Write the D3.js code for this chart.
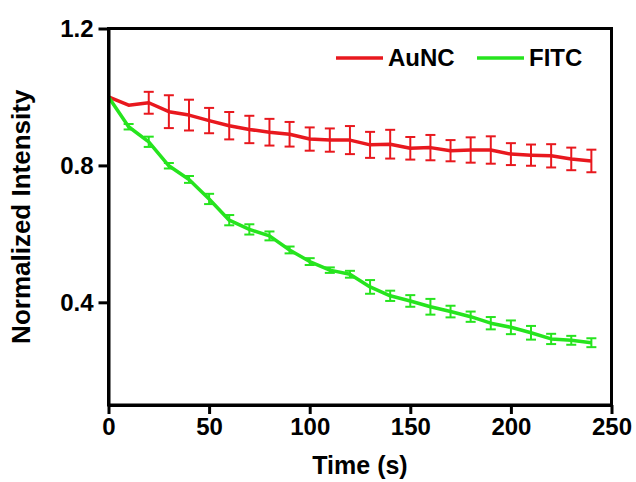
<!doctype html>
<html>
<head>
  <script src="https://cdnjs.cloudflare.com/ajax/libs/d3/7.8.5/d3.min.js"></script>
  <style>
    body { margin: 0; background: #fff; }
    svg text { font-family: "Liberation Sans", Arial, sans-serif; font-weight: bold; fill: #000; }
  </style>
</head>
<body>
  <svg id="chart" width="636" height="482"></svg>
  <script>
    // time points (s)
    var times = [0, 10, 20, 30, 40, 50, 60, 70, 80, 90, 100, 110, 120, 130, 140, 150, 160, 170, 180, 190, 200, 210, 220, 230, 240];
    var aunc = [1.0, 0.976, 0.983, 0.957, 0.947, 0.931, 0.916, 0.905, 0.897, 0.891, 0.877, 0.874, 0.874, 0.86, 0.862, 0.85, 0.852, 0.843, 0.845, 0.845, 0.833, 0.83, 0.828, 0.819, 0.813];
    var auncErr = [0, 0, 0.032, 0.048, 0.045, 0.037, 0.04, 0.04, 0.039, 0.036, 0.034, 0.034, 0.041, 0.038, 0.042, 0.033, 0.037, 0.031, 0.037, 0.04, 0.032, 0.031, 0.034, 0.033, 0.033];
    var fitc = [1.0, 0.913, 0.869, 0.799, 0.759, 0.702, 0.64, 0.613, 0.594, 0.553, 0.519, 0.494, 0.482, 0.445, 0.419, 0.404, 0.387, 0.373, 0.358, 0.339, 0.327, 0.311, 0.293, 0.289, 0.282];
    var fitcErr = [0, 0.008, 0.015, 0.008, 0.01, 0.015, 0.015, 0.015, 0.013, 0.01, 0.01, 0.008, 0.01, 0.02, 0.015, 0.017, 0.023, 0.017, 0.015, 0.018, 0.02, 0.02, 0.015, 0.013, 0.013];
    var xTicks = [0, 50, 100, 150, 200, 250];
    var yTicks = [0.4, 0.8, 1.2];

    var series = [
      { name: "AuNC", y: aunc, err: auncErr, color: "#e8181e" },
      { name: "FITC", y: fitc, err: fitcErr, color: "#26e41e" }
    ];

    var svg = d3.select("#chart");
    var pLeft = 108.5, pRight = 611.5, pTop = 28.5, pBottom = 405;

    var x = d3.scaleLinear().domain([0, 250]).range([pLeft, pRight]);
    var y = d3.scaleLinear().domain([0.1, 1.2]).range([pBottom, pTop]);

    // series (drawn first, axes on top)
    var line = d3.line().x(function (d) { return x(d[0]); }).y(function (d) { return y(d[1]); });
    series.forEach(function (s) {
      var pts = times.map(function (t, i) { return [t, s.y[i], s.err[i]]; });
      var g = svg.append("g");
      var bars = g.selectAll("g.err").data(pts.filter(function (d) { return d[2] > 0; }))
        .enter().append("g").attr("class", "err")
        .attr("stroke", s.color).attr("stroke-width", 2);
      bars.append("line")
        .attr("x1", function (d) { return x(d[0]); }).attr("x2", function (d) { return x(d[0]); })
        .attr("y1", function (d) { return y(d[1] - d[2]); }).attr("y2", function (d) { return y(d[1] + d[2]); });
      [-1, 1].forEach(function (k) {
        bars.append("line")
          .attr("x1", function (d) { return x(d[0]) - 5; }).attr("x2", function (d) { return x(d[0]) + 5; })
          .attr("y1", function (d) { return y(d[1] + k * d[2]); }).attr("y2", function (d) { return y(d[1] + k * d[2]); });
      });
      g.append("path").datum(pts)
        .attr("d", line)
        .attr("fill", "none")
        .attr("stroke", s.color)
        .attr("stroke-width", 3.5)
        .attr("stroke-linejoin", "round");
    });

    // frame
    svg.append("path")
      .attr("d", "M" + pLeft + "," + pBottom + "V" + pTop + "H" + pRight + "V" + pBottom + "Z")
      .attr("fill", "none").attr("stroke", "#000").attr("stroke-width", 3);

    var xAxis = svg.append("g")
      .attr("transform", "translate(0," + pBottom + ")")
      .call(d3.axisBottom(x).tickValues(xTicks).tickSize(9).tickPadding(4).tickSizeOuter(0));
    var yAxis = svg.append("g")
      .attr("transform", "translate(" + pLeft + ",0)")
      .call(d3.axisLeft(y).tickValues(yTicks).tickSize(10).tickPadding(5).tickFormat(d3.format(".1f")).tickSizeOuter(0));
    [xAxis, yAxis].forEach(function (a) {
      a.select(".domain").attr("stroke-width", 3);
      a.selectAll(".tick line").attr("stroke-width", 3);
      a.selectAll(".tick text").style("font-size", "24px").style("font-family", "'Liberation Sans', Arial, sans-serif").style("font-weight", "bold");
    });

    svg.append("text")
      .attr("x", (pLeft + pRight) / 2).attr("y", 474)
      .attr("text-anchor", "middle")
      .style("font-size", "25px")
      .text("Time (s)");
    svg.append("text")
      .attr("transform", "translate(30," + ((pTop + pBottom) / 2) + ") rotate(-90)")
      .attr("text-anchor", "middle")
      .style("font-size", "26px")
      .text("Normalized Intensity");

    // legend
    var legX = [336, 477];
    series.forEach(function (s, i) {
      svg.append("line")
        .attr("x1", legX[i]).attr("x2", legX[i] + 47)
        .attr("y1", 58).attr("y2", 58)
        .attr("stroke", s.color).attr("stroke-width", 3.5);
      svg.append("text")
        .attr("x", legX[i] + 52).attr("y", 66)
        .style("font-size", "24px")
        .text(s.name);
    });
  </script>
</body>
</html>
